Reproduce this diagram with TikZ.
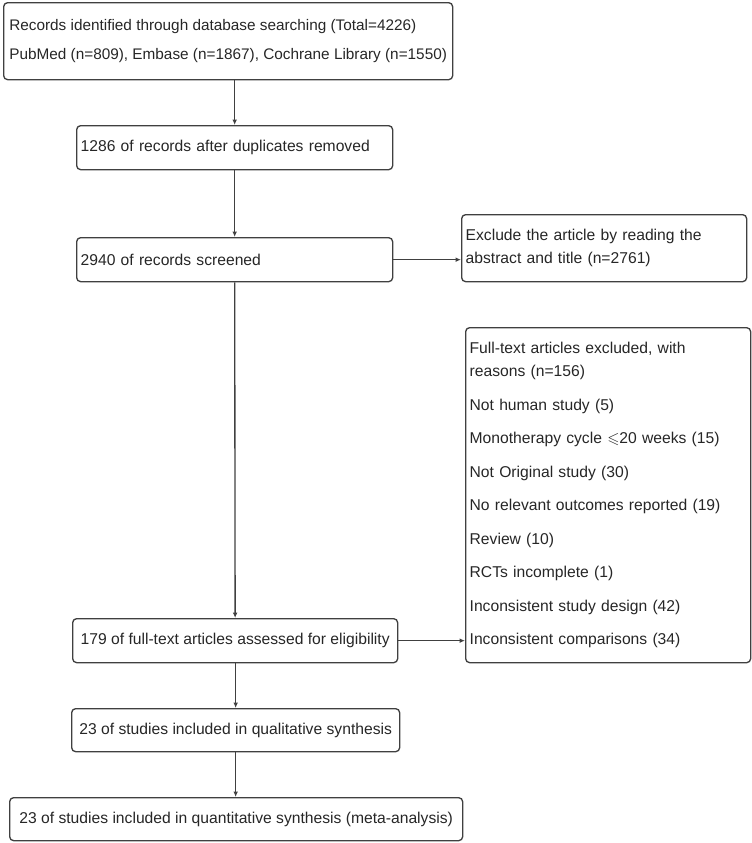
\documentclass[tikz,border=0pt]{standalone}
\usepackage{fontspec}
\usepackage{amssymb}
\setmainfont{Liberation Sans}
\usetikzlibrary{arrows.meta}

\definecolor{linegray}{RGB}{64,64,64}
\definecolor{textgray}{RGB}{38,38,38}

\tikzset{every picture/.style={line width=1pt}}
\tikzset{
  box/.style={draw=linegray, rounded corners=3pt, anchor=north west, align=left,
    inner xsep=3pt, inner ysep=3pt, text=textgray, font=\fontsize{11.75}{17.25}\selectfont},
  arr/.style={draw=linegray, -{Latex[length=4pt,width=3.5pt]}}
}

\begin{document}
\begin{tikzpicture}[x=0.75pt,y=0.75pt,yscale=-1,xscale=1]
\useasboundingbox (0,0) rectangle (752,843);

% Boxes
\node [box, inner xsep=0.5pt, minimum width=336.75pt, minimum height=57.75pt, font=\fontsize{11.5}{17.25}\selectfont] (records) at (3,2) {Records identified through database searching (Total=4226)\\[4.5pt]PubMed (n=809), Embase (n=1867), Cochrane Library (n=1550)};
\node [box, text width=231pt, minimum height=33pt] (dupl) at (76,125) {1286 of records after duplicates removed};
\node [box, text width=231pt, minimum height=33pt] (screen) at (76,237) {2940 of records screened};
\node [box, text width=207.75pt, minimum height=50.25pt] (exclabs) at (461,214) {Exclude the article by reading the\\abstract and title (n=2761)};
\node [box, text width=207.75pt, minimum height=251.25pt] (exclfull) at (465,327) {Full-text articles excluded, with\\reasons (n=156)\\[7.9pt]Not human study (5)\\[7.9pt]Monotherapy cycle $\leqslant$20 weeks (15)\\[7.9pt]Not Original study (30)\\[7.9pt]No relevant outcomes reported (19)\\[7.9pt]Review (10)\\[7.9pt]RCTs incomplete (1)\\[7.9pt]Inconsistent study design (42)\\[7.9pt]Inconsistent comparisons (34)};
\node [box, inner xsep=1pt, minimum width=243.75pt, minimum height=33pt] (elig) at (72,618) {179 of full-text articles assessed for eligibility};
\node [box, inner xsep=1pt, minimum width=246pt, minimum height=32.25pt] (qual) at (71,708) {23 of studies included in qualitative synthesis};
\node [box, inner xsep=1pt, minimum width=339.75pt, minimum height=32.25pt] (quant) at (9,797) {23 of studies included in quantitative synthesis (meta-analysis)};

% Arrows
\draw [arr] (records.south -| dupl.north) -- (dupl.north);
\draw [arr] (dupl) -- (screen);
\draw [arr] (screen.east) -- (screen.east -| exclabs.west);
\draw [arr] (screen) -- (elig);
\draw [arr] (elig.east) -- (elig.east -| exclfull.west);
\draw [arr] (elig.south -| qual.north) -- (qual.north);
\draw [arr] (qual) -- (quant.north -| qual.south);

\end{tikzpicture}
\end{document}
